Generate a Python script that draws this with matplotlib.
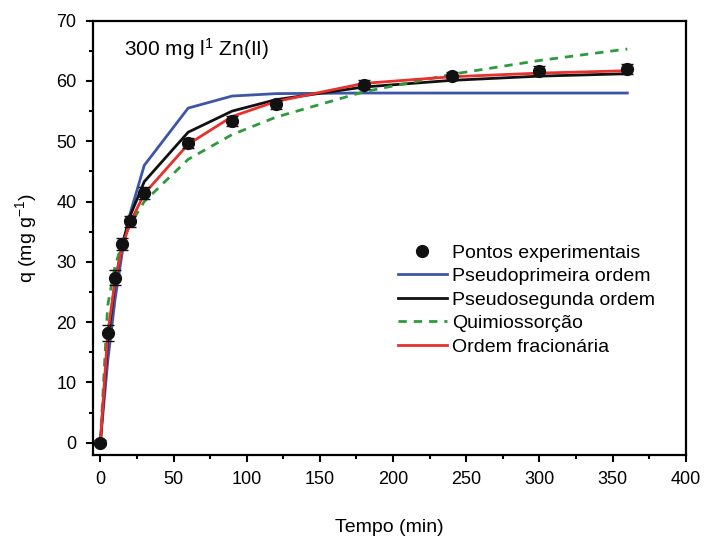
import matplotlib
matplotlib.use('Agg')

import matplotlib.pyplot as plt
from matplotlib.lines import Line2D
from matplotlib.ticker import MultipleLocator

plt.rcParams['font.family'] = ['Liberation Sans Narrow', 'Liberation Sans', 'DejaVu Sans']
plt.rcParams['mathtext.default'] = 'regular'

# contact time (min)
tempo = [0, 5, 10, 15, 20, 30, 60, 90, 120, 180, 240, 300, 360]

# experimental uptake (mg/g) and its spread
q_exp = [0.0, 18.2, 27.4, 33.0, 36.7, 41.4, 49.7, 53.4, 56.1, 59.4, 60.8, 61.7, 62.0]
q_err = [0.4, 1.4, 1.2, 1.0, 0.9, 1.0, 0.9, 0.8, 0.8, 0.8, 0.7, 0.7, 0.8]

# kinetic model curves evaluated at the sampling times
q_pfo = [0.0, 13.4, 23.7, 31.6, 37.7, 46.0, 55.5, 57.5, 57.9, 58.0, 58.0, 58.0, 58.0]
q_pso = [0.0, 16.8, 26.5, 32.9, 37.4, 43.3, 51.5, 55.0, 56.9, 59.0, 60.1, 60.8, 61.2]
q_elo = [0.0, 22.7, 29.2, 33.2, 36.0, 40.0, 47.0, 51.1, 54.0, 58.2, 61.1, 63.4, 65.3]
q_frac = [0.0, 18.0, 26.8, 32.5, 36.3, 41.3, 49.5, 54.1, 56.6, 59.6, 60.7, 61.3, 61.7]

fig = plt.figure(figsize=(7.1, 5.44), dpi=100)
ax = fig.add_axes([0.131, 0.164, 0.835, 0.798])

ax.errorbar(tempo, q_exp, yerr=q_err, fmt='o', color='#111111', ms=8.5,
            capsize=4, elinewidth=1, zorder=5)
l1, = ax.plot(tempo, q_pfo, color='#3f56a8', lw=2, label='Pseudoprimeira ordem')
l2, = ax.plot(tempo, q_pso, color='#111111', lw=2, label='Pseudosegunda ordem')
l3, = ax.plot(tempo, q_elo, color='#2e9a3e', lw=2, ls=(0, (3, 2.5)), label='Quimiossorção')
l4, = ax.plot(tempo, q_frac, color='#e8302c', lw=2, label='Ordem fracionária')

ax.set_xlim(-5, 400)
ax.set_ylim(-2, 70)
ax.xaxis.set_major_locator(MultipleLocator(50))
ax.xaxis.set_minor_locator(MultipleLocator(25))
ax.yaxis.set_major_locator(MultipleLocator(10))
ax.yaxis.set_minor_locator(MultipleLocator(5))
ax.tick_params(which='major', direction='out', length=5, width=1.5,
               labelsize=13, pad=7)
ax.tick_params(which='minor', direction='out', length=3, width=1.5)
for sp in ax.spines.values():
    sp.set_linewidth(1.6)

ax.set_xlabel('Tempo (min)', fontsize=14, labelpad=22)
ax.set_ylabel('q (mg g$^{-1}$)', fontsize=14, labelpad=12)

ax.text(16, 64.2, '300 mg l$^{1}$ Zn(II)', fontsize=15)

# marker-only handle for the experimental points
pts = Line2D([], [], ls='none', marker='o', ms=8.5, color='#111111')
ax.legend([pts, l1, l2, l3, l4],
          ['Pontos experimentais', l1.get_label(), l2.get_label(),
           l3.get_label(), l4.get_label()],
          loc='center left', bbox_to_anchor=(0.485, 0.357), frameon=False,
          fontsize=14, handlelength=2.5, labelspacing=0.3, handletextpad=0.3)

fig.savefig('out.png', dpi=100)
